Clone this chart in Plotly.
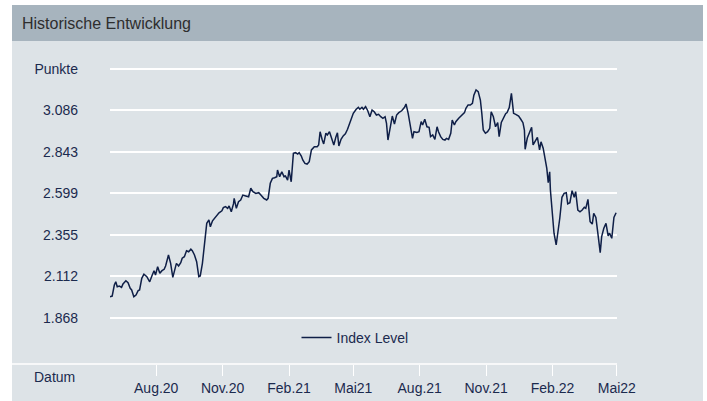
import plotly.graph_objects as go

# ---------------- data ----------------
dates_2020 = [
    "2020-05-29", "2020-06-01", "2020-06-04", "2020-06-06", "2020-06-08", "2020-06-11", "2020-06-14",
    "2020-06-16", "2020-06-20", "2020-06-23", "2020-06-26", "2020-06-28", "2020-07-01", "2020-07-04",
    "2020-07-07", "2020-07-09", "2020-07-12", "2020-07-15", "2020-07-19", "2020-07-23", "2020-07-26",
    "2020-07-29", "2020-07-31", "2020-08-03", "2020-08-06", "2020-08-09", "2020-08-12", "2020-08-14",
    "2020-08-18", "2020-08-21", "2020-08-24", "2020-08-26", "2020-08-29", "2020-09-01", "2020-09-04",
    "2020-09-06", "2020-09-09", "2020-09-12", "2020-09-15", "2020-09-18", "2020-09-20", "2020-09-23",
    "2020-09-26", "2020-09-29", "2020-10-01", "2020-10-04", "2020-10-07", "2020-10-10", "2020-10-13",
    "2020-10-15", "2020-10-18", "2020-10-21", "2020-10-24", "2020-10-27", "2020-10-31", "2020-11-02",
    "2020-11-05", "2020-11-08", "2020-11-10", "2020-11-13", "2020-11-16", "2020-11-17", "2020-11-20",
    "2020-11-23", "2020-11-26", "2020-11-29", "2020-12-03", "2020-12-07", "2020-12-10", "2020-12-13",
    "2020-12-17", "2020-12-21", "2020-12-24", "2020-12-28",
]
values_2020 = [
    1991, 1995, 2060, 2079, 2050, 2054, 2046,
    2066, 2085, 2073, 2041, 2031, 1991, 2001,
    2027, 2031, 2099, 2123, 2109, 2079, 2113,
    2144, 2119, 2167, 2129, 2144, 2152, 2172,
    2236, 2187, 2105, 2138, 2187, 2172, 2191,
    2217, 2226, 2261, 2255, 2270, 2261, 2236,
    2197, 2109, 2113, 2187, 2305, 2422, 2442,
    2402, 2437, 2452, 2465, 2484, 2496, 2514,
    2520, 2510, 2524, 2490, 2536, 2569, 2510,
    2549, 2559, 2588, 2583, 2578, 2628, 2608,
    2598, 2602, 2588, 2569,
]

dates_2021 = [
    "2021-01-01", "2021-01-03", "2021-01-06", "2021-01-09", "2021-01-12", "2021-01-15", "2021-01-16",
    "2021-01-19", "2021-01-22", "2021-01-25", "2021-01-27", "2021-01-30", "2021-02-01", "2021-02-04",
    "2021-02-07", "2021-02-10", "2021-02-13", "2021-02-15", "2021-02-18", "2021-02-20", "2021-02-23",
    "2021-02-26", "2021-03-01", "2021-03-04", "2021-03-08", "2021-03-12", "2021-03-14", "2021-03-16",
    "2021-03-19", "2021-03-21", "2021-03-24", "2021-03-26", "2021-03-29", "2021-04-01", "2021-04-04",
    "2021-04-07", "2021-04-09", "2021-04-11", "2021-04-14", "2021-04-17", "2021-04-20", "2021-04-23",
    "2021-04-26", "2021-04-29", "2021-05-01", "2021-05-05", "2021-05-08", "2021-05-10", "2021-05-13",
    "2021-05-15", "2021-05-18", "2021-05-21", "2021-05-24", "2021-05-27", "2021-05-30", "2021-06-02",
    "2021-06-05", "2021-06-08", "2021-06-11", "2021-06-14", "2021-06-16", "2021-06-18", "2021-06-21",
    "2021-06-24", "2021-06-27", "2021-06-30", "2021-07-03", "2021-07-07", "2021-07-11", "2021-07-13",
    "2021-07-16", "2021-07-19", "2021-07-22", "2021-07-24", "2021-07-28", "2021-07-31", "2021-08-03",
    "2021-08-05", "2021-08-08", "2021-08-11", "2021-08-14", "2021-08-16", "2021-08-19", "2021-08-22",
    "2021-08-25", "2021-08-27", "2021-08-30", "2021-09-02", "2021-09-05", "2021-09-07", "2021-09-10",
    "2021-09-13", "2021-09-15", "2021-09-18", "2021-09-20", "2021-09-24", "2021-09-28", "2021-10-02",
    "2021-10-04", "2021-10-07", "2021-10-10", "2021-10-13", "2021-10-15", "2021-10-18", "2021-10-21",
    "2021-10-24", "2021-10-26", "2021-10-28", "2021-10-31", "2021-11-03", "2021-11-06", "2021-11-08",
    "2021-11-11", "2021-11-14", "2021-11-17", "2021-11-19", "2021-11-22", "2021-11-25", "2021-11-28",
    "2021-11-30", "2021-12-03", "2021-12-06", "2021-12-09", "2021-12-12", "2021-12-16", "2021-12-19",
    "2021-12-22", "2021-12-24", "2021-12-25", "2021-12-28", "2021-12-31",
]
values_2021 = [
    2559, 2569, 2657, 2686, 2690, 2696, 2735,
    2696, 2725, 2696, 2700, 2676, 2735, 2666,
    2833, 2837, 2829, 2837, 2817, 2794, 2774,
    2770, 2784, 2853, 2872, 2872, 2882, 2960,
    2911, 2888, 2951, 2941, 2960, 2921, 2882,
    2931, 2954, 2876, 2915, 2935, 2947, 2974,
    3009, 3039, 3068, 3092, 3103, 3092, 3103,
    3092, 3107, 3083, 3048, 3087, 3077, 3058,
    3062, 3048, 3039, 3048, 3009, 2911, 2980,
    3052, 3005, 3058, 3072, 3083, 3103, 3123,
    3068, 2999, 2921, 2960, 2956, 2960, 3019,
    2999, 3033, 2989, 2986, 2931, 2941, 2915,
    2989, 2960, 2931, 2915, 2911, 2921, 2915,
    2951, 3029, 2999, 3019, 3039, 3058, 3072,
    3097, 3117, 3117, 3127, 3175, 3205, 3195,
    3146, 3068, 2970, 2951, 2960, 2980, 3077,
    3048, 2989, 3013, 2931, 3014, 3040, 3066,
    3072, 3102, 3185, 3068, 3062, 3052, 3033,
    3013, 2970, 2857, 2923, 2955,
]

dates_2022 = [
    "2022-01-03", "2022-01-05", "2022-01-08", "2022-01-11", "2022-01-14", "2022-01-16", "2022-01-19",
    "2022-01-22", "2022-01-24", "2022-01-26", "2022-01-28", "2022-01-29", "2022-02-01", "2022-02-03",
    "2022-02-06", "2022-02-09", "2022-02-11", "2022-02-14", "2022-02-17", "2022-02-20", "2022-02-22",
    "2022-02-25", "2022-02-28", "2022-03-03", "2022-03-05", "2022-03-08", "2022-03-11", "2022-03-14",
    "2022-03-17", "2022-03-19", "2022-03-22", "2022-03-25", "2022-03-28", "2022-03-30", "2022-04-02",
    "2022-04-05", "2022-04-08", "2022-04-10", "2022-04-13", "2022-04-16", "2022-04-19", "2022-04-21",
    "2022-04-24", "2022-04-27", "2022-04-30",
]
values_2022 = [
    2986, 2882, 2901, 2927, 2853, 2901, 2863,
    2804, 2745, 2661, 2725, 2618, 2481, 2364,
    2295, 2383, 2452, 2575, 2598, 2602, 2536,
    2543, 2614, 2575, 2608, 2500, 2490, 2500,
    2516, 2510, 2563, 2432, 2418, 2481, 2457,
    2354, 2250, 2344, 2393, 2422, 2348, 2364,
    2334, 2457, 2484,
]

y_tick_values = [1868.05, 2111.7, 2355.35, 2599.0, 2842.65, 3086.3, 3330.0]
y_tick_labels = ["1.868", "2.112", "2.355", "2.599", "2.843", "3.086", "Punkte"]

x_tick_dates = ["2020-08-01", "2020-11-01", "2021-02-01", "2021-05-01",
                "2021-08-01", "2021-11-01", "2022-02-01", "2022-05-01"]
x_tick_labels = ["Aug.20", "Nov.20", "Feb.21", "Mai21", "Aug.21", "Nov.21", "Feb.22", "Mai22"]

series_name = "Index Level"
title_text = "Historische Entwicklung"
x_axis_label = "Datum"

dates = dates_2020 + dates_2021 + dates_2022
values = values_2020 + values_2021 + values_2022

# ---------------- style ----------------
W, H = 707, 401
L, R, T, B = 110, 90, 60, 37
PW = W - L - R
PH = H - T - B

PANEL = "#dde3e7"
HEADER = "#a7b4be"
NAVY = "#1b2a4e"
LINE = "#0f1f47"
FONT = "Arial, 'Liberation Sans', sans-serif"


def px(x):
    return (x - L) / PW


def py(y):
    return (H - B - y) / PH


fig = go.Figure()
fig.add_trace(go.Scatter(
    x=dates, y=values, mode="lines", name=series_name,
    line=dict(color=LINE, width=1.5), showlegend=True,
))

shapes = [
    dict(type="rect", xref="paper", yref="paper", x0=px(12), x1=px(703), y0=py(405), y1=py(5),
         fillcolor=PANEL, line=dict(width=0), layer="below"),
    dict(type="rect", xref="paper", yref="paper", x0=px(12), x1=px(703), y0=py(41), y1=py(5),
         fillcolor=HEADER, line=dict(width=0), layer="below"),
    dict(type="line", xref="paper", yref="paper", x0=px(12), x1=1, y0=0, y1=0,
         line=dict(color="white", width=1.5), layer="below"),
]

annotations = [
    dict(text=title_text, xref="paper", yref="paper", x=px(20), y=py(23),
         xanchor="left", yanchor="middle", showarrow=False,
         font=dict(family=FONT, size=16, color="#2e2e2e")),
    dict(text=x_axis_label, xref="paper", yref="paper", x=px(77), y=py(377),
         xanchor="right", yanchor="middle", showarrow=False,
         font=dict(family=FONT, size=14, color=NAVY)),
]

fig.update_layout(
    width=W, height=H,
    margin=dict(l=L, r=R, t=T, b=B, pad=0, autoexpand=False),
    paper_bgcolor="white",
    plot_bgcolor="rgba(0,0,0,0)",
    font=dict(family=FONT, size=14, color=NAVY),
    shapes=shapes,
    annotations=annotations,
    showlegend=True,
    legend=dict(orientation="h", x=px(355), xanchor="center", y=py(338), yanchor="middle",
                bgcolor="rgba(0,0,0,0)", font=dict(family=FONT, size=14, color=NAVY),
                itemwidth=30),
    xaxis=dict(
        type="date",
        range=["2020-05-29", "2022-05-01 06:00"],
        tickmode="array", tickvals=x_tick_dates, ticktext=x_tick_labels,
        showgrid=False, zeroline=False, showline=False,
        ticks="outside", ticklen=11, tickwidth=1, tickcolor="white",
        tickfont=dict(family=FONT, size=14, color=NAVY),
        automargin=False, fixedrange=True,
    ),
    yaxis=dict(
        range=[1596.2, 3381.0],
        tickmode="array", tickvals=y_tick_values, ticktext=y_tick_labels,
        showgrid=True, gridcolor="white", gridwidth=1.5,
        zeroline=False, showline=False, ticks="", ticklen=0,
        ticklabelstandoff=31,
        tickfont=dict(family=FONT, size=14, color=NAVY),
        automargin=False, fixedrange=True,
    ),
)

fig.write_html(
    "out.html",
    config={"displayModeBar": False},
    post_script="document.body.style.margin='0';document.body.style.overflow='hidden';",
)
